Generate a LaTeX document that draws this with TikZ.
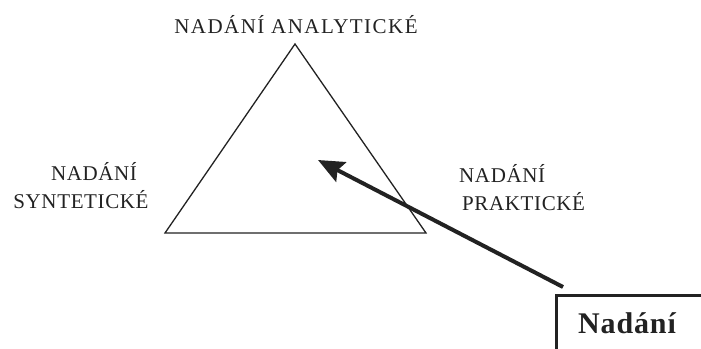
\documentclass[tikz,border=0pt]{standalone}
\usepackage{fontspec}
\setmainfont{Liberation Serif}
\newfontfamily\lblfont[LetterSpace=3]{Liberation Serif}
\newfontfamily\topfont[LetterSpace=7]{Liberation Serif}
\newfontfamily\boxfont[LetterSpace=3]{Liberation Serif}
\usetikzlibrary{arrows.meta}
\definecolor{ink}{HTML}{222222}
\tikzset{
  lbl/.style={inner sep=0pt, anchor=base, text=ink, font=\fontsize{21}{28}\selectfont\lblfont},
  tri/.style={draw=ink, line width=1.3pt, line join=miter},
  bigbox/.style={draw=ink, line width=3pt, inner sep=0pt, anchor=north west, minimum width=170pt, minimum height=70pt},
  bigarrow/.style={draw=ink, line width=4pt, -{Stealth[length=26pt,width=22pt,inset=4pt]}}
}
\begin{document}
\begin{tikzpicture}[x=1pt,y=-1pt]
\useasboundingbox (0,0) rectangle (701,348);
\clip (0,0) rectangle (701,348);
\fill[white] (0,0) rectangle (701,348);
% triangle
\coordinate (apex) at (295,44);
\coordinate (bl) at (165,233);
\coordinate (br) at (426,233);
\draw[tri] (apex) -- (bl) -- (br) -- cycle;
% labels
\node[lbl, font=\fontsize{21}{28}\selectfont\topfont] (top) at (296,33) {NADÁNÍ ANALYTICKÉ};
\node[lbl] (left1) at (94,180) {NADÁNÍ};
\node[lbl] (left2) at (81,208) {SYNTETICKÉ};
\node[lbl, anchor=base west] (right1) at (459,182) {NADÁNÍ};
\node[lbl, anchor=base west] (right2) at (462,210) {PRAKTICKÉ};
% box
\node[bigbox] (box) at (555,294) {};
\node[inner sep=0pt, text=ink, anchor=base, font=\fontsize{30}{34}\selectfont\bfseries\boxfont] (boxtxt) at (627,333) {Nadání};
% arrow
\coordinate (tail) at (563,287);
\coordinate (tip) at (318,160);
\draw[bigarrow] (tail) -- (tip);
\end{tikzpicture}
\end{document}
